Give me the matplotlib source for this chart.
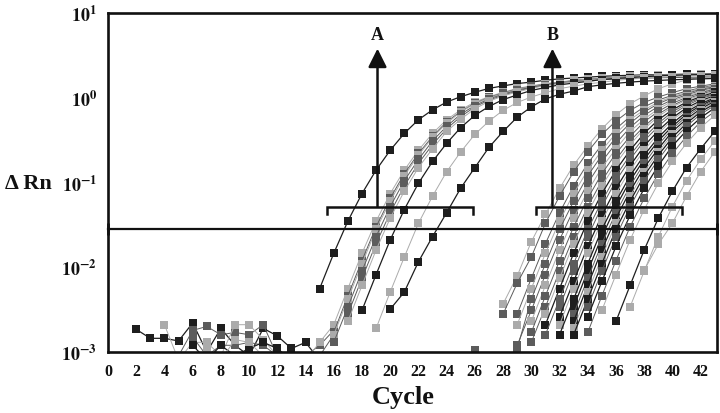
import matplotlib.pyplot as plt
import numpy as np

plt.rcParams['font.family'] = ['Liberation Serif', 'DejaVu Serif']
plt.rcParams['font.weight'] = 'bold'
plt.rcParams['mathtext.fontset'] = 'stix'

# shades used by the instrument print-out
shade_colors = {'k': '#1e1e1e', 'd': '#5c5c5c', 'l': '#ababab'}

# baseline noise in the first cycles (first cycle of each run, shade, delta Rn)
noise_start = [2, 5, 4, 6, 6, 7, 26]
noise_shade = ['k', 'd', 'l', 'd', 'k', 'l', 'd']
noise_values = [
    [0.00185, 0.00145, 0.00145, 0.00135, 0.0022, 0.001, 0.0019, 0.0012, 0.0009, 0.0019, 0.00155, 0.0011, 0.0013, 0.0008],
    [0.0009, 0.0018, 0.002, 0.0016, 0.0017, 0.0016, 0.0021, 0.0009, 0.0008, 0.0009, 0.0012, 0.0018],
    [0.0021, 0.0008, 0.0013, 0.0013, 0.0009, 0.0021, 0.0021, 0.0014, 0.0009, 0.0008, 0.0008, 0.0013, 0.0021],
    [0.0015, 0.0009, 0.0012, 0.0012, 0.0013, 0.0012, 0.0009, 0.0008, 0.0008, 0.0009, 0.0016],
    [0.0012, 0.0008, 0.0012, 0.0009, 0.0011, 0.0013, 0.0011, 0.0008, 0.0008],
    [0.0011, 0.0008, 0.0014, 0.0013, 0.0009],
    [0.00105],
]

# group A amplification curves
a_start = [15, 16, 16, 16, 16, 17, 17, 18, 19, 20]
a_shade = ['k', 'l', 'd', 'l', 'd', 'd', 'l', 'k', 'l', 'k']
a_values = [
    [0.0056, 0.0146, 0.035, 0.074, 0.14, 0.24, 0.38, 0.55, 0.72, 0.89, 1.03, 1.16, 1.29, 1.38, 1.47,
     1.53, 1.61, 1.67, 1.71, 1.75, 1.79, 1.82, 1.84, 1.86, 1.87, 1.88, 1.9, 1.9, 1.92],
    [0.0021, 0.0056, 0.0146, 0.035, 0.074, 0.14, 0.24, 0.38, 0.55, 0.72, 0.89, 1.03, 1.16, 1.29,
     1.38, 1.47, 1.53, 1.61, 1.67, 1.71, 1.75, 1.79, 1.82, 1.84, 1.86, 1.88, 1.9, 1.92],
    [0.0017, 0.0046, 0.012, 0.030, 0.065, 0.127, 0.22, 0.35, 0.52, 0.69, 0.86, 1.01, 1.14, 1.27,
     1.36, 1.45, 1.52, 1.59, 1.66, 1.70, 1.74, 1.78, 1.8, 1.82, 1.84, 1.85, 1.86, 1.87],
    [0.0016, 0.0042, 0.011, 0.028, 0.060, 0.12, 0.21, 0.34, 0.50, 0.68, 0.85, 1.0, 1.12, 1.26,
     1.35, 1.45, 1.51, 1.58, 1.66, 1.70, 1.74, 1.78, 1.82, 1.85, 1.86, 1.88, 1.9, 1.9],
    [0.0013, 0.0034, 0.009, 0.023, 0.052, 0.105, 0.187, 0.31, 0.46, 0.64, 0.81, 0.97, 1.10, 1.23,
     1.33, 1.43, 1.50, 1.55, 1.6, 1.63, 1.66, 1.68, 1.70, 1.72, 1.73, 1.74, 1.75, 1.76],
    [0.0028, 0.0074, 0.019, 0.044, 0.091, 0.168, 0.28, 0.43, 0.60, 0.78, 0.94, 1.07, 1.20, 1.31,
     1.41, 1.48, 1.55, 1.63, 1.68, 1.72, 1.76, 1.8, 1.83, 1.85, 1.86, 1.88, 1.9],
    [0.0023, 0.0061, 0.016, 0.038, 0.079, 0.15, 0.25, 0.40, 0.56, 0.74, 0.91, 1.05, 1.17, 1.29,
     1.39, 1.47, 1.54, 1.61, 1.67, 1.71, 1.75, 1.79, 1.82, 1.84, 1.86, 1.88, 1.9],
    [0.0031, 0.0082, 0.021, 0.048, 0.098, 0.177, 0.29, 0.445, 0.62, 0.79, 0.95, 1.08, 1.22, 1.32,
     1.42, 1.49, 1.56, 1.64, 1.69, 1.73, 1.77, 1.81, 1.84, 1.86, 1.88, 1.9],
    [0.0019, 0.0051, 0.0132, 0.033, 0.069, 0.134, 0.23, 0.37, 0.53, 0.71, 0.88, 1.02, 1.15, 1.28,
     1.37, 1.46, 1.52, 1.6, 1.66, 1.7, 1.74, 1.78, 1.8, 1.82, 1.84],
    [0.0032, 0.0051, 0.0116, 0.023, 0.044, 0.086, 0.15, 0.26, 0.40, 0.59, 0.78, 0.97, 1.1, 1.2,
     1.35, 1.42, 1.48, 1.53, 1.57, 1.6, 1.63, 1.65, 1.67, 1.69],
]

# group B amplification curves
b_start = [28, 28, 29, 29, 29, 29, 30, 30, 30, 31, 31, 31, 32, 32,
           32, 32, 33, 33, 33, 33, 33, 34, 34, 34, 35, 36, 37, 38]
b_shade = ['l', 'd', 'd', 'l', 'd', 'd', 'l', 'd', 'd', 'l', 'k', 'd', 'd', 'k',
           'l', 'k', 'k', 'd', 'k', 'l', 'k', 'd', 'k', 'd', 'l', 'k', 'l', 'l']
b_values = [
    [0.0037, 0.0079, 0.02, 0.042, 0.085, 0.16, 0.27, 0.43, 0.63, 0.85, 1.05, 1.28, 1.46, 1.62, 1.76, 1.85],
    [0.0028, 0.0065, 0.0132, 0.033, 0.069, 0.134, 0.23, 0.37, 0.53, 0.71, 0.88, 1.02, 1.15, 1.28, 1.37, 1.46],
    [0.0028, 0.0074, 0.019, 0.044, 0.091, 0.168, 0.28, 0.43, 0.60, 0.78, 0.94, 1.07, 1.20, 1.31, 1.41],
    [0.0021, 0.0056, 0.0146, 0.035, 0.074, 0.14, 0.24, 0.38, 0.55, 0.72, 0.89, 1.03, 1.16, 1.29, 1.38],
    [0.0011, 0.0042, 0.011, 0.028, 0.060, 0.12, 0.21, 0.34, 0.50, 0.68, 0.85, 1.0, 1.12, 1.26, 1.35],
    [0.0012, 0.0031, 0.0082, 0.021, 0.048, 0.098, 0.177, 0.29, 0.445, 0.62, 0.79, 0.95, 1.08, 1.22, 1.32],
    [0.0023, 0.0061, 0.016, 0.038, 0.079, 0.15, 0.25, 0.40, 0.56, 0.74, 0.91, 1.05, 1.17, 1.29],
    [0.0017, 0.0046, 0.012, 0.030, 0.065, 0.127, 0.22, 0.35, 0.52, 0.69, 0.86, 1.01, 1.14, 1.27],
    [0.0013, 0.0034, 0.009, 0.023, 0.052, 0.105, 0.187, 0.31, 0.46, 0.64, 0.81, 0.97, 1.10, 1.23],
    [0.0028, 0.0074, 0.019, 0.044, 0.091, 0.168, 0.28, 0.43, 0.60, 0.78, 0.94, 1.07, 1.20],
    [0.0021, 0.0056, 0.0146, 0.035, 0.074, 0.14, 0.24, 0.38, 0.55, 0.72, 0.89, 1.03, 1.16],
    [0.0016, 0.0042, 0.011, 0.028, 0.060, 0.12, 0.21, 0.34, 0.50, 0.68, 0.85, 1.0, 1.12],
    [0.0034, 0.009, 0.023, 0.052, 0.105, 0.187, 0.31, 0.46, 0.64, 0.81, 0.97, 1.10],
    [0.0026, 0.0068, 0.0176, 0.041, 0.085, 0.158, 0.27, 0.41, 0.58, 0.76, 0.92, 1.06],
    [0.0021, 0.0056, 0.0146, 0.035, 0.074, 0.14, 0.24, 0.38, 0.55, 0.72, 0.89, 1.03],
    [0.0016, 0.0042, 0.011, 0.028, 0.060, 0.12, 0.21, 0.34, 0.50, 0.68, 0.85, 1.0],
    [0.0034, 0.009, 0.023, 0.052, 0.105, 0.187, 0.31, 0.46, 0.64, 0.81, 0.97],
    [0.0028, 0.0074, 0.019, 0.044, 0.091, 0.168, 0.28, 0.43, 0.60, 0.78, 0.94],
    [0.0023, 0.0061, 0.016, 0.038, 0.079, 0.15, 0.25, 0.40, 0.56, 0.74, 0.91],
    [0.0019, 0.0051, 0.0132, 0.033, 0.069, 0.134, 0.23, 0.37, 0.53, 0.71, 0.88],
    [0.0016, 0.0042, 0.011, 0.028, 0.060, 0.12, 0.21, 0.34, 0.50, 0.68, 0.85],
    [0.0034, 0.009, 0.023, 0.052, 0.105, 0.187, 0.31, 0.46, 0.64, 0.81],
    [0.0026, 0.0068, 0.0176, 0.041, 0.085, 0.158, 0.27, 0.41, 0.58, 0.76],
    [0.0017, 0.0046, 0.012, 0.030, 0.065, 0.127, 0.22, 0.35, 0.52, 0.69],
    [0.0031, 0.0082, 0.021, 0.048, 0.098, 0.177, 0.29, 0.445, 0.62],
    [0.0023, 0.0061, 0.016, 0.038, 0.079, 0.15, 0.25, 0.40],
    [0.0034, 0.009, 0.023, 0.052, 0.105, 0.187, 0.31],
    [0.0092, 0.0187, 0.033, 0.069, 0.134, 0.23],
]

threshold = 0.028
x_ticks = list(range(0, 43, 2))
y_ticks = [1e-3, 1e-2, 1e-1, 1e0, 1e1]
y_tick_labels = [r'$\mathbf{10^{-3}}$', r'$\mathbf{10^{-2}}$', r'$\mathbf{10^{-1}}$',
                 r'$\mathbf{10^{0}}$', r'$\mathbf{10^{1}}$']

# bracket / arrow annotations: (left, right, arrow x, label)
brackets = [(15.5, 25.85, 19.1, 'A'), (30.3, 40.65, 31.5, 'B')]
bracket_y = 0.052
bracket_foot = 0.0425
arrow_tip = 3.8
label_y = 5.6


def draw_runs(ax, starts, shades, values, lw_dark=0.9, lw_light=0.7):
    for start, shade, vals in zip(starts, shades, values):
        cyc = np.arange(start, start + len(vals))
        col = shade_colors[shade]
        lw = lw_dark if shade == 'k' else lw_light
        ax.plot(cyc, vals, '-', color=col, lw=lw, marker='s', ms=5.2,
                mec=col, mfc=col, mew=0)


fig = plt.figure(figsize=(7.2, 4.14), dpi=100)
ax = fig.add_axes([108 / 720, 61 / 414, 609 / 720, 339 / 414])

draw_runs(ax, noise_start, noise_shade, noise_values)
draw_runs(ax, b_start, b_shade, b_values)
draw_runs(ax, a_start, a_shade, a_values)

ax.set_yscale('log')
ax.set_xlim(0, 43.16)
ax.set_ylim(1e-3, 1e1)

# threshold line with end marks
ax.plot([0, 43.16], [threshold, threshold], color='#111111', lw=1.6, clip_on=False)
ax.plot([0, 43.16], [threshold, threshold], ls='none', marker='|', ms=8, mew=2,
        color='#111111', clip_on=False)

for left, right, ax_x, lab in brackets:
    ax.plot([left, left, right, right], [bracket_foot, bracket_y, bracket_y, bracket_foot],
            color='#111111', lw=1.8, solid_joinstyle='miter')
    ax.annotate('', xy=(ax_x, arrow_tip), xytext=(ax_x, bracket_y),
                arrowprops=dict(arrowstyle='-|>,head_length=0.8,head_width=0.4',
                                mutation_scale=14, lw=1.8, color='#111111',
                                shrinkA=0, shrinkB=0))
    ax.text(ax_x, label_y, lab, ha='center', va='center', fontsize=13,
            fontweight='bold', color='#111111')

ax.set_xticks(x_ticks)
ax.set_xticklabels([str(t) for t in x_ticks])
ax.set_yticks(y_ticks)
ax.set_yticklabels(y_tick_labels)
ax.minorticks_off()
ax.tick_params(axis='both', length=0, colors='#111111')
ax.tick_params(axis='x', pad=8, labelsize=11.5)
ax.tick_params(axis='y', pad=8, labelsize=13)
for lbl in ax.get_xticklabels():
    lbl.set_fontweight('bold')
for sp in ax.spines.values():
    sp.set_linewidth(1.9)
    sp.set_color('#111111')

fig.text(28 / 720, 1 - 184 / 414, '\u0394 Rn', ha='center', va='center',
         fontsize=16, fontweight='bold', color='#111111')
fig.text(403 / 720, 1 - 398 / 414, 'Cycle', ha='center', va='center',
         fontsize=19, fontweight='bold', color='#111111')

fig.savefig('out.png', dpi=100)
